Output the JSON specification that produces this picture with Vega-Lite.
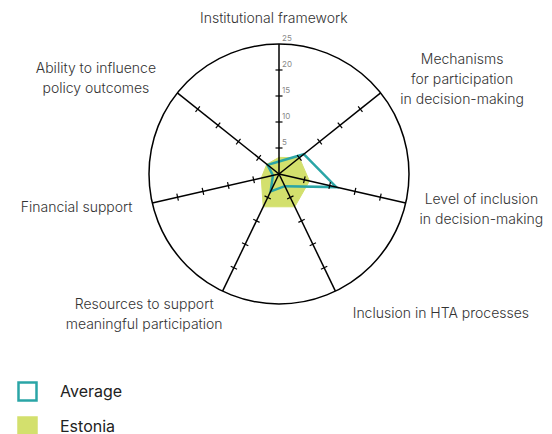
{
  "$schema": "https://vega.github.io/schema/vega-lite/v6.json",
  "width": 260,
  "height": 260,
  "autosize": "none",
  "padding": {"left": 149, "top": 44, "right": 143, "bottom": 130},
  "background": "white",
  "config": {"view": {"stroke": null}, "font": "Inter"},
  "datasets": {
    "axes": [
      {"i": 0, "name": "Institutional framework"},
      {"i": 1, "name": "Mechanisms\nfor participation\nin decision-making"},
      {"i": 2, "name": "Level of inclusion\nin decision-making"},
      {"i": 3, "name": "Inclusion in HTA processes"},
      {"i": 4, "name": "Resources to support\nmeaningful participation"},
      {"i": 5, "name": "Financial support"},
      {"i": 6, "name": "Ability to influence\npolicy outcomes"}
    ],
    "scores": [
      {"i": 0, "series": "Estonia", "value": 3.2},
      {"i": 1, "series": "Estonia", "value": 5.0},
      {"i": 2, "series": "Estonia", "value": 6.0},
      {"i": 3, "series": "Estonia", "value": 7.0},
      {"i": 4, "series": "Estonia", "value": 7.0},
      {"i": 5, "series": "Estonia", "value": 3.5},
      {"i": 6, "series": "Estonia", "value": 3.0},
      {"i": 0, "series": "Average", "value": 2.4},
      {"i": 1, "series": "Average", "value": 6.1},
      {"i": 2, "series": "Average", "value": 11.3},
      {"i": 3, "series": "Average", "value": 2.6},
      {"i": 4, "series": "Average", "value": 3.7},
      {"i": 5, "series": "Average", "value": 1.2},
      {"i": 6, "series": "Average", "value": 2.8}
    ],
    "ring": [{"r": 25}],
    "ticklabels": [{"t": 5}, {"t": 10}, {"t": 15}, {"t": 20}, {"t": 25}]
  },
  "layer": [
    {
      "data": {"name": "scores"},
      "transform": [
        {"filter": "datum.series == 'Estonia'"},
        {"calculate": "2*PI*datum.i/7", "as": "a"},
        {"calculate": "datum.value*sin(datum.a)", "as": "px"},
        {"calculate": "datum.value*cos(datum.a)", "as": "py"}
      ],
      "mark": {"type": "line", "interpolate": "linear-closed", "strokeWidth": 1},
      "encoding": {
        "x": {"field": "px", "type": "quantitative", "scale": {"domain": [-25, 25], "nice": false, "zero": false}, "axis": null},
        "y": {"field": "py", "type": "quantitative", "scale": {"domain": [-25, 25], "nice": false, "zero": false}, "axis": null},
        "order": {"field": "i", "type": "quantitative"},
        "fill": {"field": "series", "type": "nominal", "scale": {"domain": ["Average", "Estonia"], "range": ["transparent", "#d3e06d"]},
          "legend": {"orient": "none", "legendX": -132, "legendY": 337, "title": null, "symbolType": "square", "symbolSize": 324, "symbolStrokeWidth": 2.5, "labelFontSize": 16, "labelFont": "Inter", "labelColor": "#222", "labelOffset": 22, "rowPadding": 6, "direction": "vertical"}},
        "stroke": {"field": "series", "type": "nominal", "scale": {"domain": ["Average", "Estonia"], "range": ["#2aa5a6", "#d3e06d"]},
          "legend": {"orient": "none", "legendX": -132, "legendY": 337, "title": null, "symbolType": "square", "symbolSize": 324, "symbolStrokeWidth": 2.5, "labelFontSize": 16, "labelFont": "Inter", "labelColor": "#222", "labelOffset": 22, "rowPadding": 6, "direction": "vertical"}}
      }
    },
    {
      "data": {"name": "scores"},
      "transform": [
        {"filter": "datum.series == 'Average'"},
        {"calculate": "2*PI*datum.i/7", "as": "a"},
        {"calculate": "datum.value*sin(datum.a)", "as": "px"},
        {"calculate": "datum.value*cos(datum.a)", "as": "py"}
      ],
      "mark": {"type": "line", "interpolate": "linear-closed", "strokeWidth": 2.5},
      "encoding": {
        "x": {"field": "px", "type": "quantitative", "scale": {"domain": [-25, 25], "nice": false, "zero": false}, "axis": null},
        "y": {"field": "py", "type": "quantitative", "scale": {"domain": [-25, 25], "nice": false, "zero": false}, "axis": null},
        "order": {"field": "i", "type": "quantitative"},
        "fill": {"field": "series", "type": "nominal"},
        "stroke": {"field": "series", "type": "nominal"}
      }
    },
    {
      "data": {"name": "axes"},
      "transform": [
        {"calculate": "2*PI*datum.i/7", "as": "a"},
        {"calculate": "0", "as": "cx"},
        {"calculate": "25*sin(datum.a)", "as": "ex"},
        {"calculate": "25*cos(datum.a)", "as": "ey"}
      ],
      "mark": {"type": "rule", "color": "black", "strokeWidth": 1.5},
      "encoding": {
        "x": {"field": "cx", "type": "quantitative", "scale": {"domain": [-25, 25], "nice": false, "zero": false}, "axis": null},
        "y": {"field": "cx", "type": "quantitative", "scale": {"domain": [-25, 25], "nice": false, "zero": false}, "axis": null},
        "x2": {"field": "ex"},
        "y2": {"field": "ey"}
      }
    },
    {
      "data": {"name": "axes"},
      "transform": [
        {"calculate": "[5, 10, 15, 20]", "as": "ticks"},
        {"flatten": ["ticks"]},
        {"calculate": "2*PI*datum.i/7", "as": "a"},
        {"calculate": "datum.ticks*sin(datum.a)", "as": "tx"},
        {"calculate": "datum.ticks*cos(datum.a)", "as": "ty"},
        {"calculate": "360*datum.i/7", "as": "deg"}
      ],
      "mark": {"type": "point", "shape": "stroke", "size": 49, "strokeWidth": 1.2, "color": "black", "opacity": 1},
      "encoding": {
        "x": {"field": "tx", "type": "quantitative", "scale": {"domain": [-25, 25], "nice": false, "zero": false}, "axis": null},
        "y": {"field": "ty", "type": "quantitative", "scale": {"domain": [-25, 25], "nice": false, "zero": false}, "axis": null},
        "angle": {"field": "deg", "type": "quantitative", "scale": null}
      }
    },
    {
      "data": {"name": "ring"},
      "mark": {"type": "arc", "filled": false, "stroke": "black", "strokeWidth": 1.5},
      "encoding": {
        "theta": {"field": "r", "type": "quantitative"},
        "radius": {"field": "r", "type": "quantitative", "scale": {"type": "linear", "domain": [0, 25], "zero": true}}
      }
    },
    {
      "data": {"name": "ticklabels"},
      "transform": [{"calculate": "0", "as": "cx"}],
      "mark": {"type": "text", "align": "left", "baseline": "bottom", "dx": 3, "dy": -1, "fontSize": 8, "color": "#888888"},
      "encoding": {
        "x": {"field": "cx", "type": "quantitative", "scale": {"domain": [-25, 25], "nice": false, "zero": false}, "axis": null},
        "y": {"field": "t", "type": "quantitative", "scale": {"domain": [-25, 25], "nice": false, "zero": false}, "axis": null},
        "text": {"field": "t", "type": "quantitative"}
      }
    },
    {
      "data": {"name": "axes"},
      "transform": [
        {"calculate": "2*PI*datum.i/7", "as": "a"},
        {"calculate": "19.2*sin(datum.a) + (sin(datum.a) > 0.01 ? 20.2 : sin(datum.a) < -0.01 ? -20.2 : -1) + (cos(datum.a) < -0.5 ? 2.6 : 0)", "as": "lx"},
        {"calculate": "29.8*cos(datum.a) + (length(split(datum.name, '\\n')) - 1) * 1.7", "as": "ly"}
      ],
      "mark": {"type": "text", "align": "center", "baseline": "middle", "lineBreak": "\n", "lineHeight": 20, "fontSize": 14, "fontWeight": 300, "color": "#333333"},
      "encoding": {
        "x": {"field": "lx", "type": "quantitative", "scale": {"domain": [-25, 25], "nice": false, "zero": false}, "axis": null},
        "y": {"field": "ly", "type": "quantitative", "scale": {"domain": [-25, 25], "nice": false, "zero": false}, "axis": null},
        "text": {"field": "name", "type": "nominal"}
      }
    }
  ]
}
